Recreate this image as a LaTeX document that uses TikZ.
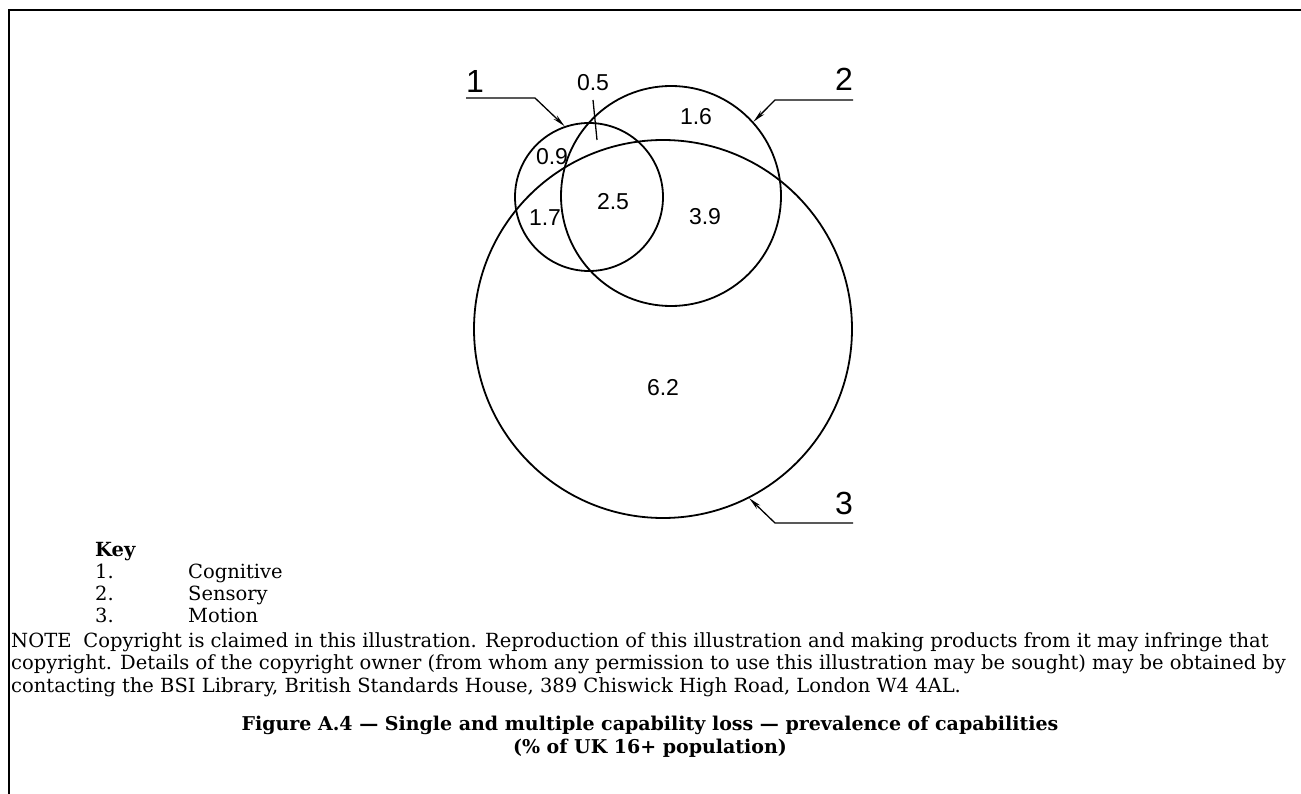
\documentclass[tikz,border=0pt]{standalone}
\usepackage{fontspec}
\setmainfont{DejaVu Serif}
\newfontfamily\isofont{Liberation Sans}
\usetikzlibrary{arrows.meta, positioning}

\begin{document}
\begin{tikzpicture}[x=1pt, y=-1pt,
    ring/.style={draw, circle, line width=1.8pt, inner sep=0pt},
    leader/.style={line width=1.3pt},
    val/.style={font=\isofont\fontsize{23}{23}\selectfont, inner sep=0pt},
    tag/.style={font=\isofont\fontsize{32}{32}\selectfont, inner sep=0pt},
    body/.style={font=\fontsize{19.5}{22.5}\selectfont, inner sep=0pt, anchor=base west}]
    \useasboundingbox (0,0) rectangle (1301,794);
    \draw[line width=1.5pt] (9,794) -- (9,10) -- (1301,10);

    % the three sets
    \node[ring, minimum size=148pt] (cog) at (589,197) {};
    \node[ring, minimum size=220pt] (sen) at (671,196) {};
    \node[ring, minimum size=378pt] (mot) at (663,329) {};

    % values
    \node[val] (v05) at (593,83) {0.5};
    \node[val] (v09) at (552,157) {0.9};
    \node[val] (v16) at (696,117) {1.6};
    \node[val] (v25) at (613,202) {2.5};
    \node[val] (v17) at (545,218) {1.7};
    \node[val] (v39) at (705,217) {3.9};
    \node[val] (v62) at (663,388) {6.2};
    \coordinate (t05a) at (593,100);
    \coordinate (t05b) at (597,140);
    \draw[leader] (t05a) -- (t05b);

    % leaders
    \node[tag, anchor=base west] (n1) at (466,93) {1};
    \coordinate (h1a) at (466,98);
    \coordinate (h1b) at (535,98);
    \draw[leader, -{Stealth[length=13pt, width=5pt]}] (h1a) -- (h1b) -- (cog.109);

    \node[tag, anchor=base east] (n2) at (853,91) {2};
    \coordinate (h2a) at (853,100);
    \coordinate (h2b) at (775,100);
    \draw[leader, -{Stealth[length=13pt, width=5pt]}] (h2a) -- (h2b) -- (sen.42);

    \node[tag, anchor=base east] (n3) at (853,514) {3};
    \coordinate (h3a) at (853,523);
    \coordinate (h3b) at (775,523);
    \draw[leader, -{Stealth[length=13pt, width=5pt]}] (h3a) -- (h3b) -- (mot.-63);

    % key
    \node[body] (key) at (95,556) {\textbf{Key}};
    \node[body] (k1) at (95,578) {1.};
    \node[body] (k2) at (95,600) {2.};
    \node[body] (k3) at (95,622) {3.};
    \node[body] (c1) at (188,578) {Cognitive};
    \node[body] (c2) at (188,600) {Sensory};
    \node[body] (c3) at (188,622) {Motion};

    % note (base anchor sits on the last line)
    \node[body, align=left] (note) at (11,692) {NOTE\hspace{12pt}Copyright is claimed in this illustration. Reproduction of this illustration and making products from it may infringe that\\
    copyright. Details of the copyright owner (from whom any permission to use this illustration may be sought) may be obtained by\\
    contacting the BSI Library, British Standards House, 389 Chiswick High Road, London W4 4AL.};

    % caption
    \node[font=\bfseries\fontsize{19}{22.5}\selectfont, align=center, inner sep=0pt, anchor=base] (cap) at (650,753) {Figure A.4 --- Single and multiple capability loss --- prevalence of capabilities\\(\% of UK 16+ population)};
\end{tikzpicture}
\end{document}
